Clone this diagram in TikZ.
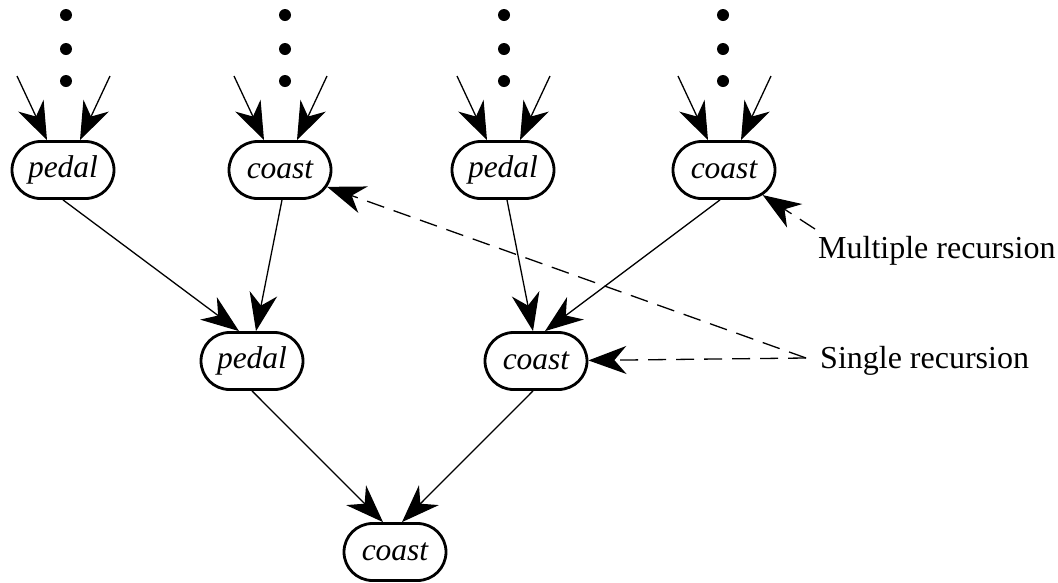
\documentclass[tikz,border=0pt]{standalone}
\usepackage{fontspec}
\setmainfont{Liberation Serif}
\usetikzlibrary{shapes.misc,arrows.meta,calc}
\begin{document}
\begin{tikzpicture}[x=1pt,y=-1pt,
  stage/.style={rounded rectangle, draw, line width=2.8pt,
    minimum width=110pt, minimum height=57pt, inner xsep=4pt, inner ysep=0pt,
    font=\fontsize{31.5}{37}\selectfont\itshape},
  link/.style={line width=1.3pt, -{Stealth[length=38pt,width=28pt,inset=12pt]}},
  hint/.style={link, dash pattern=on 18pt off 10pt},
  note/.style={font=\fontsize{32}{38}\selectfont, anchor=base west, inner sep=0pt},
  dotmark/.style={circle, fill, inner sep=0pt, minimum size=12pt}]
\useasboundingbox (0,0) rectangle (1058,582);

% top row
\node[stage] (t1) at (63,170) {pedal};
\node[stage] (t2) at (280,170) {coast};
\node[stage] (t3) at (503,170) {pedal};
\node[stage] (t4) at (724,170) {coast};
% middle row
\node[stage] (m1) at (252,361) {pedal};
\node[stage] (m2) at (536,361) {coast};
% bottom
\node[stage] (b) at (395,552) {coast};

% ellipsis dots above each top node
\foreach \n/\x in {t1/66, t2/285, t3/504, t4/723}{
  \foreach \y [count=\i] in {15,49,81}{
    \node[dotmark] (\n dot\i) at (\x,\y) {};
  }
  \coordinate (\n l) at ($(\n)+(-46,-94)$);
  \coordinate (\n r) at ($(\n)+(47,-94)$);
  \draw[link] (\n l) -- ($(\n.north)+(-16,0)$);
  \draw[link] (\n r) -- ($(\n.north)+(17,0)$);
}

% tree edges
\draw[link] (t1.south) -- ($(m1.north)+(-13,0)$);
\draw[link] ($(t2.south)+(2,0)$) -- ($(m1.north)+(4,0)$);
\draw[link] ($(t3.south)+(4,0)$) -- ($(m2.north)+(-3,0)$);
\draw[link] ($(t4.south)+(-4,0)$) -- ($(m2.north)+(9,0)$);
\draw[link] (m1.south) -- ($(b.north)+(-12,0)$);
\draw[link] ($(m2.south)+(-3,0)$) -- ($(b.north)+(7,0)$);

% annotations
\node[note] (multi) at (818,258) {Multiple recursion};
\node[note] (single) at (820,368) {Single recursion};
\coordinate (ms) at (815,229);
\coordinate (ss) at (806,358);
\draw[hint] (ms) -- (t4);
\draw[hint] (ss) -- (t2);
\draw[hint] (ss) -- (m2);
\end{tikzpicture}
\end{document}
